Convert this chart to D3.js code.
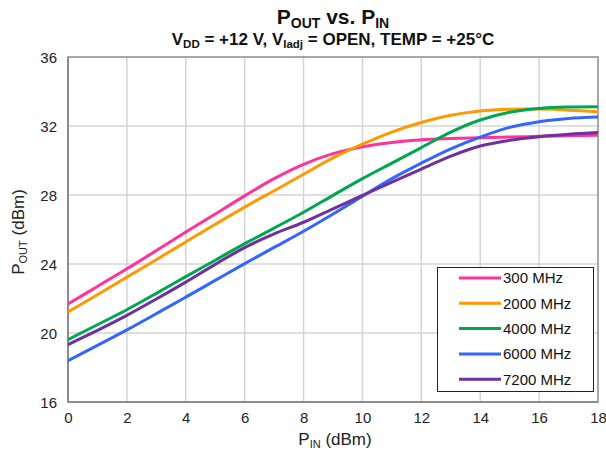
<!DOCTYPE html>
<html>
<head>
<meta charset="utf-8">
<script src="https://cdn.jsdelivr.net/npm/d3@7"></script>
<style>
  body { margin: 0; background: #fff; }
  svg { display: block; font-family: Arial, "Liberation Sans", sans-serif; }
</style>
</head>
<body>
<svg id="chart" width="606" height="455"></svg>
<script>
// Input power sweep (dBm)
const pin = [0, 1, 2, 3, 4, 5, 6, 7, 8, 9, 10, 11, 12, 13, 14, 15, 16, 17, 18];

// Output power (dBm) per frequency
const pout300  = [21.68, 22.70, 23.72, 24.78, 25.85, 26.90, 27.95, 28.95, 29.78, 30.40, 30.80, 31.05, 31.20, 31.27, 31.32, 31.36, 31.40, 31.43, 31.46];
const pout2000 = [21.22, 22.22, 23.24, 24.25, 25.28, 26.30, 27.30, 28.25, 29.20, 30.15, 30.95, 31.65, 32.20, 32.62, 32.87, 32.97, 32.98, 32.92, 32.83];
const pout4000 = [19.62, 20.48, 21.35, 22.30, 23.27, 24.22, 25.18, 26.08, 27.00, 27.98, 28.95, 29.85, 30.75, 31.65, 32.35, 32.80, 33.02, 33.10, 33.12];
const pout6000 = [18.40, 19.28, 20.18, 21.12, 22.08, 23.05, 24.02, 24.96, 25.90, 26.90, 27.93, 28.95, 29.85, 30.68, 31.36, 31.92, 32.25, 32.44, 32.52];
const pout7200 = [19.33, 20.15, 21.02, 21.97, 22.95, 23.98, 24.95, 25.75, 26.42, 27.20, 27.98, 28.75, 29.50, 30.25, 30.84, 31.17, 31.38, 31.52, 31.62];

const seriesNames = ["300 MHz", "2000 MHz", "4000 MHz", "6000 MHz", "7200 MHz"];
const seriesColors = ["#ff3399", "#ff9900", "#00a650", "#3366ff", "#7030a0"];
const seriesValues = [pout300, pout2000, pout4000, pout6000, pout7200];

const xTicks = [0, 2, 4, 6, 8, 10, 12, 14, 16, 18];
const yTicks = [16, 20, 24, 28, 32, 36];

const svg = d3.select("#chart");
const plot = { left: 68, right: 598, top: 57, bottom: 402 };

const x = d3.scaleLinear().domain([0, 18]).range([plot.left, plot.right]);
const y = d3.scaleLinear().domain([16, 36]).range([plot.bottom, plot.top]);

// Grid
const grid = svg.append("g");
grid.selectAll("line.vx").data(xTicks.slice(1, -1)).join("line")
  .attr("x1", d => x(d)).attr("x2", d => x(d))
  .attr("y1", plot.top).attr("y2", plot.bottom)
  .attr("stroke", "#d4d4d4").attr("stroke-width", 1.5);
grid.selectAll("line.hy").data(yTicks.slice(1, -1)).join("line")
  .attr("x1", plot.left).attr("x2", plot.right)
  .attr("y1", d => y(d)).attr("y2", d => y(d))
  .attr("stroke", "#d4d4d4").attr("stroke-width", 1.5);

// Frame
svg.append("rect")
  .attr("x", plot.left).attr("y", plot.top)
  .attr("width", plot.right - plot.left).attr("height", plot.bottom - plot.top)
  .attr("fill", "none").attr("stroke", "#8c8c8c").attr("stroke-width", 1.5);
svg.append("line").attr("x1", plot.left).attr("x2", plot.left)
  .attr("y1", plot.top).attr("y2", plot.bottom)
  .attr("stroke", "#8c8c8c").attr("stroke-width", 2);
svg.append("line").attr("x1", plot.left).attr("x2", plot.right)
  .attr("y1", plot.bottom).attr("y2", plot.bottom)
  .attr("stroke", "#8c8c8c").attr("stroke-width", 2);

// Axes (labels only)
const xAxis = svg.append("g").attr("transform", `translate(0,${plot.bottom + 8})`)
  .call(d3.axisBottom(x).tickValues(xTicks).tickSize(0).tickPadding(0));
const yAxis = svg.append("g").attr("transform", `translate(${plot.left - 11},0)`)
  .call(d3.axisLeft(y).tickValues(yTicks).tickSize(0).tickPadding(0));
[xAxis, yAxis].forEach(a => {
  a.select(".domain").remove();
  a.selectAll("text").attr("font-size", 15).attr("fill", "#222")
    .attr("font-family", "Arial, 'Liberation Sans', sans-serif");
});
xAxis.selectAll("text").attr("dy", "0.85em");
yAxis.selectAll("text").attr("dy", "0.35em");

// Curves
svg.append("clipPath").attr("id", "clip").append("rect")
  .attr("x", plot.left).attr("y", plot.top)
  .attr("width", plot.right - plot.left).attr("height", plot.bottom - plot.top);

const line = d3.line()
  .x((d, i) => x(pin[i]))
  .y(d => y(d))
  .curve(d3.curveCatmullRom.alpha(0.5));

svg.append("g").attr("clip-path", "url(#clip)")
  .selectAll("path").data(seriesValues).join("path")
  .attr("d", d => line(d))
  .attr("fill", "none")
  .attr("stroke", (d, i) => seriesColors[i])
  .attr("stroke-width", 3)
  .attr("stroke-linejoin", "round")
  .attr("stroke-linecap", "round");

// Legend
const lg = svg.append("g");
lg.append("rect").attr("x", 437.5).attr("y", 267.5).attr("width", 156).attr("height", 124)
  .attr("fill", "#fff").attr("stroke", "#222").attr("stroke-width", 1);
const rows = lg.selectAll("g.row").data(seriesNames).join("g")
  .attr("transform", (d, i) => `translate(0,${278 + i * 25.3})`);
rows.append("line").attr("x1", 459).attr("x2", 501).attr("y1", 0).attr("y2", 0)
  .attr("stroke", (d, i) => seriesColors[i]).attr("stroke-width", 3);
rows.append("text").attr("x", 503).attr("y", 0).attr("dy", "0.36em")
  .attr("font-size", 15).attr("fill", "#111").text(d => d);

// Titles
const title = svg.append("text").attr("x", 333).attr("y", 24)
  .attr("text-anchor", "middle").attr("font-size", 21).attr("font-weight", "bold").attr("fill", "#111");
title.append("tspan").text("P");
title.append("tspan").attr("font-size", 14).attr("dy", 4).text("OUT");
title.append("tspan").attr("dy", -4).text(" vs. P");
title.append("tspan").attr("font-size", 14).attr("dy", 4).text("IN");

const sub = svg.append("text").attr("x", 333).attr("y", 45)
  .attr("text-anchor", "middle").attr("font-size", 17).attr("font-weight", "bold").attr("fill", "#111");
sub.append("tspan").text("V");
sub.append("tspan").attr("font-size", 11.5).attr("dy", 3).text("DD");
sub.append("tspan").attr("dy", -3).text(" = +12 V, V");
sub.append("tspan").attr("font-size", 11.5).attr("dy", 3).text("Iadj");
sub.append("tspan").attr("dy", -3).text(" = OPEN, TEMP = +25°C");

// Axis titles
const xt = svg.append("text").attr("x", 335).attr("y", 445)
  .attr("text-anchor", "middle").attr("font-size", 17).attr("fill", "#222");
xt.append("tspan").text("P");
xt.append("tspan").attr("font-size", 11).attr("dy", 3).text("IN");
xt.append("tspan").attr("dy", -3).text(" (dBm)");

const yt = svg.append("text").attr("transform", "translate(24,232) rotate(-90)")
  .attr("text-anchor", "middle").attr("font-size", 17).attr("fill", "#222");
yt.append("tspan").text("P");
yt.append("tspan").attr("font-size", 11).attr("dy", 3).text("OUT");
yt.append("tspan").attr("dy", -3).text(" (dBm)");
</script>
</body>
</html>
